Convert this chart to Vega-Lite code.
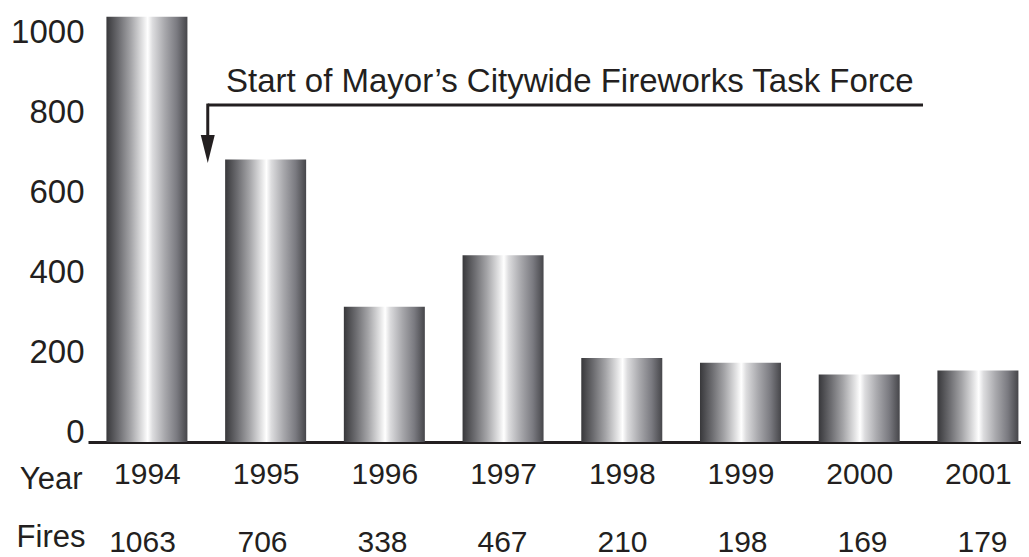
{
  "$schema": "https://vega.github.io/schema/vega-lite/v6.json",
  "padding": {"left": 10, "top": 0, "right": 0, "bottom": 0},
  "background": "white",
  "spacing": 19,
  "config": {
    "view": {"stroke": null},
    "font": "Liberation Sans",
    "text": {"font": "Liberation Sans", "color": "#231f20"},
    "axis": {"labelFont": "Liberation Sans", "titleFont": "Liberation Sans", "labelColor": "#231f20", "titleColor": "#231f20", "grid": false, "labelFlush": false, "labelOverlap": false, "labelBound": false}
  },
  "datasets": {
    "fires": [
      {"year": 1994, "fires": 1063},
      {"year": 1995, "fires": 706},
      {"year": 1996, "fires": 338},
      {"year": 1997, "fires": 467},
      {"year": 1998, "fires": 210},
      {"year": 1999, "fires": 198},
      {"year": 2000, "fires": 169},
      {"year": 2001, "fires": 179}
    ]
  },
  "vconcat": [
    {
      "width": 933,
      "height": 442,
      "layer": [
        {
          "data": {"name": "fires"},
          "mark": {
            "type": "bar",
            "width": 81,
            "color": {
              "gradient": "linear", "x1": 0, "y1": 0, "x2": 1, "y2": 0,
              "stops": [
                {"offset": 0, "color": "#38383b"},
                {"offset": 0.15, "color": "#6c6c70"},
                {"offset": 0.3, "color": "#a4a4a7"},
                {"offset": 0.45, "color": "#e4e4e5"},
                {"offset": 0.51, "color": "#ffffff"},
                {"offset": 0.57, "color": "#dcdcde"},
                {"offset": 0.72, "color": "#a8a8ac"},
                {"offset": 0.87, "color": "#7a7a80"},
                {"offset": 1, "color": "#46464a"}
              ]
            }
          },
          "encoding": {
            "x": {
              "field": "year", "type": "quantitative",
              "scale": {"domain": [1993.5458, 2001.3208], "nice": false, "zero": false},
              "axis": {
                "values": [1994, 1995, 1996, 1997, 1998, 1999, 2000, 2001],
                "format": "d",
                "labelFontSize": 30,
                "labelBaseline": "alphabetic",
                "labelPadding": 41,
                "ticks": false,
                "tickSize": 0,
                "domain": true,
                "domainColor": "#231f20",
                "domainWidth": 3,
                "title": "Year",
                "titleFontSize": 31,
                "titleFontWeight": "normal",
                "titleAlign": "right",
                "titleBaseline": "alphabetic",
                "titleAngle": 0,
                "titleX": -6,
                "titleY": 46
              }
            },
            "y": {
              "field": "fires", "type": "quantitative",
              "scale": {"domain": [0, 1105], "nice": false},
              "axis": {
                "values": [0, 200, 400, 600, 800, 1000],
                "format": "d",
                "labelFontSize": 33,
                "labelBaseline": "alphabetic",
                "labelPadding": 4,
                "ticks": false,
                "tickSize": 0,
                "domain": false,
                "title": null
              }
            }
          }
        },
        {
          "data": {"values": [{}]},
          "mark": {"type": "rule", "color": "#231f20", "strokeWidth": 3},
          "encoding": {
            "x": {"datum": 1994.5125, "type": "quantitative"},
            "x2": {"datum": 2000.5375},
            "y": {"datum": 842.5, "type": "quantitative"}
          }
        },
        {
          "data": {"values": [{}]},
          "mark": {"type": "rule", "color": "#231f20", "strokeWidth": 3},
          "encoding": {
            "x": {"datum": 1994.5125, "type": "quantitative"},
            "y": {"datum": 846, "type": "quantitative"},
            "y2": {"datum": 745}
          }
        },
        {
          "data": {"values": [{}]},
          "mark": {"type": "point", "shape": "M -0.5 -1 L 0.5 -1 L 0 1 Z", "size": 784, "filled": true, "color": "#231f20", "opacity": 1, "strokeWidth": 0},
          "encoding": {
            "x": {"datum": 1994.5125, "type": "quantitative"},
            "y": {"datum": 732.5, "type": "quantitative"}
          }
        },
        {
          "data": {"values": [{}]},
          "mark": {"type": "text", "text": "Start of Mayor’s Citywide Fireworks Task Force", "fontSize": 33, "align": "left", "baseline": "alphabetic", "color": "#231f20"},
          "encoding": {
            "x": {"datum": 1994.666, "type": "quantitative"},
            "y": {"datum": 875, "type": "quantitative"}
          }
        }
      ]
    },
    {
      "width": 933,
      "height": 60,
      "data": {"name": "fires"},
      "mark": {"type": "text", "fontSize": 30, "baseline": "middle", "align": "center", "color": "#231f20"},
      "encoding": {
        "x": {
          "field": "year", "type": "quantitative",
          "scale": {"domain": [1993.5458, 2001.3208], "nice": false, "zero": false},
          "axis": null
        },
        "y": {
          "datum": "Fires", "type": "nominal",
          "axis": {"labelFontSize": 31, "labelPadding": 3, "labelOffset": -6, "ticks": false, "tickSize": 0, "domain": false, "title": null}
        },
        "text": {"field": "fires", "type": "quantitative", "format": "d"}
      }
    }
  ]
}
